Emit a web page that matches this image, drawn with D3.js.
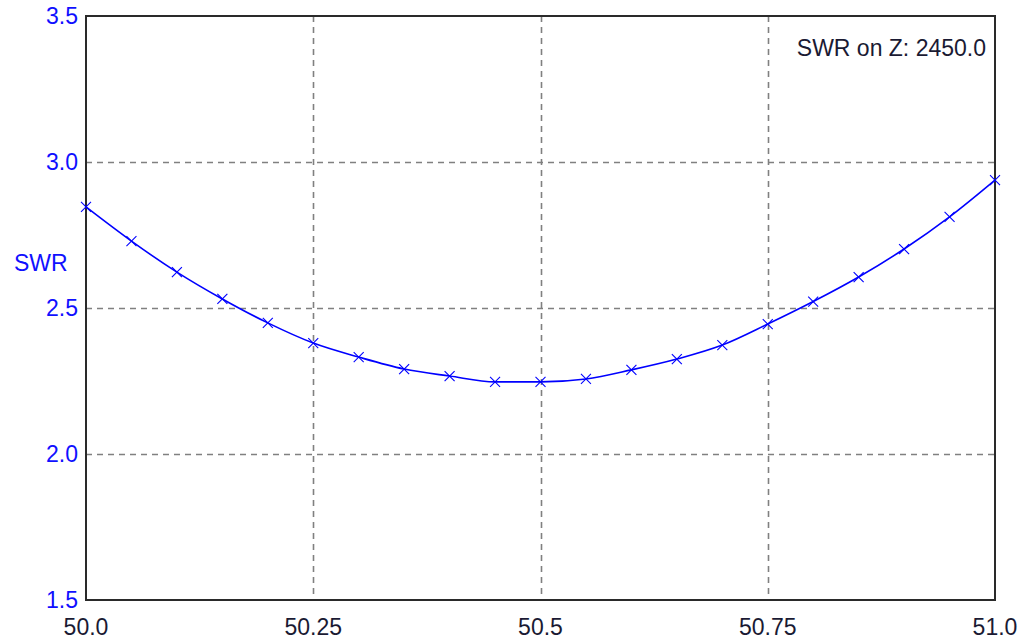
<!DOCTYPE html>
<html>
<head>
<meta charset="utf-8">
<script src="https://cdn.jsdelivr.net/npm/d3@7"></script>
<style>
  html, body { margin: 0; padding: 0; background: #fff; }
  svg { display: block; }
  text { font-family: "Liberation Sans", Arial, sans-serif; }
</style>
</head>
<body>
<svg id="chart" width="1021" height="643"></svg>
<script>
// Data
const freqs = [50.0, 50.05, 50.1, 50.15, 50.2, 50.25, 50.3, 50.35, 50.4, 50.45, 50.5,
               50.55, 50.6, 50.65, 50.7, 50.75, 50.8, 50.85, 50.9, 50.95, 51.0];
const swr = [2.846, 2.729, 2.623, 2.531, 2.449, 2.380, 2.332, 2.291, 2.267, 2.247, 2.247,
             2.257, 2.288, 2.325, 2.373, 2.445, 2.522, 2.606, 2.702, 2.812, 2.938];
const xTicks = [50.0, 50.25, 50.5, 50.75, 51.0];
const xTickLabels = ["50.0", "50.25", "50.5", "50.75", "51.0"];
const yTicks = [1.5, 2.0, 2.5, 3.0, 3.5];
const yTickLabels = ["1.5", "2.0", "2.5", "3.0", "3.5"];
const yLabel = "SWR";
const annotation = "SWR on Z: 2450.0";

const svg = d3.select("#chart");
const L = 86, R = 995, T = 16, B = 600;
const x = d3.scaleLinear().domain([50.0, 51.0]).range([L, R]);
const y = d3.scaleLinear().domain([1.5, 3.5]).range([B, T]);

// Grid lines (interior)
const g = svg.append("g");
g.selectAll("line.vg").data(xTicks.slice(1, -1)).enter().append("line")
  .attr("x1", d => Math.round(x(d)) + 0.5).attr("x2", d => Math.round(x(d)) + 0.5)
  .attr("y1", T).attr("y2", B)
  .attr("stroke", "#808080").attr("stroke-width", 1.6).attr("stroke-dasharray", "6,5");
g.selectAll("line.hg").data(yTicks.slice(1, -1)).enter().append("line")
  .attr("y1", d => Math.round(y(d)) + 0.5).attr("y2", d => Math.round(y(d)) + 0.5)
  .attr("x1", L).attr("x2", R)
  .attr("stroke", "#808080").attr("stroke-width", 1.6).attr("stroke-dasharray", "6,5");

// Frame
svg.append("rect").attr("x", L).attr("y", T).attr("width", R - L).attr("height", B - T)
  .attr("fill", "none").attr("stroke", "#2a2a2a").attr("stroke-width", 2);

// Line
const line = d3.line().x((d, i) => x(freqs[i])).y(d => y(d)).curve(d3.curveMonotoneX);
svg.append("path").datum(swr).attr("d", line)
  .attr("fill", "none").attr("stroke", "#0000ff").attr("stroke-width", 1.6);

// Markers (x crosses)
const s = 5;
const mk = svg.append("g").attr("stroke", "#0000ff").attr("stroke-width", 1.1);
swr.forEach((v, i) => {
  const cx = x(freqs[i]), cy = y(v);
  mk.append("line").attr("x1", cx - s).attr("y1", cy - s).attr("x2", cx + s).attr("y2", cy + s);
  mk.append("line").attr("x1", cx - s).attr("y1", cy + s).attr("x2", cx + s).attr("y2", cy - s);
});

// Y tick labels
svg.append("g").selectAll("text").data(yTicks).enter().append("text")
  .attr("x", 78).attr("y", d => y(d)).attr("dy", "0.36em")
  .attr("text-anchor", "end").attr("font-size", 23).attr("fill", "#1010ff")
  .text((d, i) => yTickLabels[i]);

// X tick labels
svg.append("g").selectAll("text").data(xTicks).enter().append("text")
  .attr("x", d => x(d)).attr("y", 635)
  .attr("text-anchor", "middle").attr("font-size", 23).attr("fill", "#1a1a33")
  .text((d, i) => xTickLabels[i]);

// Y axis label
svg.append("text").attr("x", 14).attr("y", 271)
  .attr("font-size", 23).attr("fill", "#1010ff").text(yLabel);

// Annotation
svg.append("text").attr("x", 986).attr("y", 56).attr("text-anchor", "end")
  .attr("font-size", 23).attr("fill", "#1a1a33").text(annotation);
</script>
</body>
</html>
